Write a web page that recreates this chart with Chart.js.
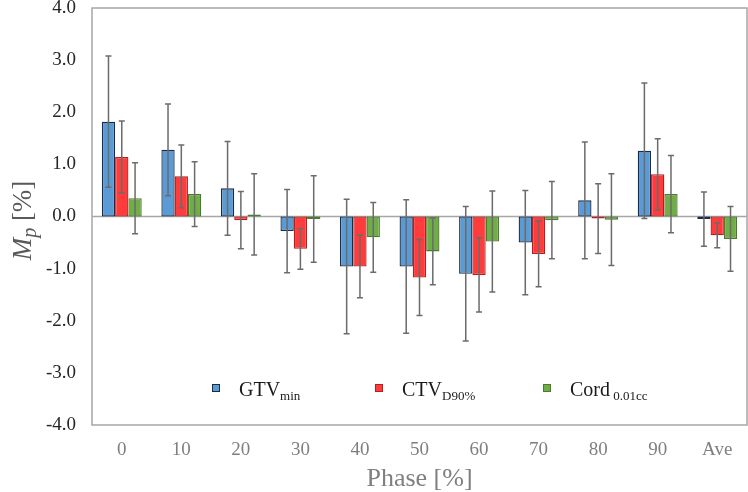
<!DOCTYPE html>
<html>
<head>
<meta charset="utf-8">
<script src="https://cdn.jsdelivr.net/npm/chart.js@4"></script>
<style>
html,body{margin:0;padding:0;background:#fff;}
#wrap{width:748px;height:492px;position:relative;}
</style>
</head>
<body>
<div id="wrap"><canvas id="c" width="748" height="492"></canvas></div>
<script>
const categories = ['0','10','20','30','40','50','60','70','80','90','Ave'];
const gtvMean = [1.82, 1.28, 0.54, -0.28, -0.96, -0.96, -1.10, -0.50, 0.31, 1.26, -0.05];
const gtvSD   = [1.26, 0.88, 0.90, 0.80, 1.29, 1.28, 1.29, 1.00, 1.12, 1.30, 0.52];
const ctvMean = [1.14, 0.77, -0.07, -0.62, -0.96, -1.17, -1.12, -0.72, -0.04, 0.81, -0.36];
const ctvSD   = [0.69, 0.60, 0.55, 0.39, 0.60, 0.73, 0.71, 0.63, 0.67, 0.68, 0.24];
const cordMean = [0.35, 0.43, 0.04, -0.05, -0.40, -0.67, -0.48, -0.07, -0.06, 0.43, -0.43];
const cordSD   = [0.68, 0.62, 0.78, 0.83, 0.67, 0.64, 0.97, 0.74, 0.88, 0.74, 0.62];
const yTicks = [-4, -3, -2, -1, 0, 1, 2, 3, 4];
const legendMain = ['GTV', 'CTV', 'Cord'];
const legendSub = ['min', 'D90%', ' 0.01cc'];
const sdSets = [gtvSD, ctvSD, cordSD];

const SERIF = '"Liberation Serif", "Times New Roman", serif';

const errorBars = {
  id: 'errorBars',
  afterDatasetsDraw(chart) {
    const ctx = chart.ctx;
    const ys = chart.scales.y;
    ctx.save();
    ctx.strokeStyle = '#6b6b6b';
    ctx.lineWidth = 1.5;
    chart.data.datasets.forEach((ds, di) => {
      const meta = chart.getDatasetMeta(di);
      meta.data.forEach((el, i) => {
        const v = ds.data[i], sd = sdSets[di][i];
        const yt = ys.getPixelForValue(v + sd);
        const yb = ys.getPixelForValue(v - sd);
        const x = el.x;
        ctx.beginPath();
        ctx.moveTo(x, yt); ctx.lineTo(x, yb);
        ctx.moveTo(x - 3, yt); ctx.lineTo(x + 3, yt);
        ctx.moveTo(x - 3, yb); ctx.lineTo(x + 3, yb);
        ctx.stroke();
      });
    });
    ctx.restore();
  }
};

const frame = {
  id: 'frame',
  beforeDatasetsDraw(chart) {
    const {ctx, chartArea: a} = chart;
    const ys = chart.scales.y;
    ctx.save();
    ctx.strokeStyle = '#a6a6a6';
    ctx.lineWidth = 1.5;
    ctx.strokeRect(a.left, a.top, a.right - a.left, a.bottom - a.top);
    const y0 = ys.getPixelForValue(0);
    ctx.beginPath();
    ctx.moveTo(a.left, y0); ctx.lineTo(a.right, y0);
    ctx.stroke();
    ctx.restore();
  },
  afterDraw(chart) {
    const {ctx, chartArea: a} = chart;
    ctx.save();
    ctx.translate(22, (a.top + a.bottom) / 2 + 4);
    ctx.rotate(-Math.PI / 2);
    ctx.fillStyle = '#595959';
    ctx.textBaseline = 'alphabetic';
    const f1 = 'italic 27px ' + SERIF, f2 = 'italic 20px ' + SERIF, f3 = '27px ' + SERIF;
    ctx.font = f1; const wM = ctx.measureText('M').width;
    ctx.font = f2; const wP = ctx.measureText('p').width;
    ctx.font = f3; const wR = ctx.measureText(' [%]').width;
    const total = wM + wP + wR;
    let x = -total / 2;
    const base = 9;
    ctx.font = f1; ctx.fillText('M', x, base); x += wM;
    ctx.font = f2; ctx.fillText('p', x, base + 5); x += wP;
    ctx.font = f3; ctx.fillText(' [%]', x, base);
    ctx.restore();

    ctx.save();
    const ly = 387;
    const boxX = [212, 375, 543];
    chart.data.datasets.forEach((ds, i) => {
      const bx = boxX[i];
      ctx.fillStyle = ds.backgroundColor;
      ctx.strokeStyle = ds.borderColor;
      ctx.lineWidth = 1;
      ctx.fillRect(bx, ly - 3, 8, 8);
      ctx.strokeRect(bx + 0.5, ly - 2.5, 7, 7);
      ctx.fillStyle = '#1a1a1a';
      ctx.textBaseline = 'alphabetic';
      ctx.font = '20px ' + SERIF;
      const tx = bx + 27;
      ctx.fillText(legendMain[i], tx, ly + 9);
      const w = ctx.measureText(legendMain[i]).width;
      ctx.font = '13px ' + SERIF;
      ctx.fillText(legendSub[i], tx + w, ly + 13);
    });
    ctx.restore();
  }
};

new Chart(document.getElementById('c'), {
  type: 'bar',
  data: {
    labels: categories,
    datasets: [
      {label: 'GTVmin', data: gtvMean, backgroundColor: '#5b9bd5', borderColor: '#1c2b45', borderWidth: 1.3, borderSkipped: false},
      {label: 'CTVD90%', data: ctvMean, backgroundColor: '#ff3b3b', borderColor: '#b51f1f', borderWidth: 1.3, borderSkipped: false},
      {label: 'Cord0.01cc', data: cordMean, backgroundColor: '#70ad47', borderColor: '#4a7a2c', borderWidth: 1.3, borderSkipped: false}
    ]
  },
  options: {
    responsive: false,
    animation: false,
    devicePixelRatio: 1,
    layout: {padding: {top: 8, right: 1, left: 0, bottom: 0}},
    categoryPercentage: 0.67,
    barPercentage: 1.0,
    plugins: {legend: {display: false}, tooltip: {enabled: false}},
    scales: {
      x: {
        grid: {display: false, drawTicks: false},
        border: {display: false},
        ticks: {color: '#7f7f7f', font: {family: SERIF, size: 19}, padding: 14},
        title: {display: true, text: 'Phase [%]', color: '#7f7f7f', font: {family: SERIF, size: 26}, padding: {top: 0, bottom: -3}},
        afterFit(s) { s.height = 67; s.paddingLeft = 0; s.paddingRight = 0; }
      },
      y: {
        min: -4, max: 4,
        afterBuildTicks(s) { s.ticks = yTicks.map(v => ({value: v})); },
        grid: {display: false, drawTicks: false},
        border: {display: false},
        ticks: {color: '#262626', font: {family: SERIF, size: 19}, padding: 16, callback: v => v.toFixed(1)},
        afterFit(s) { s.width = 92; s.paddingTop = 0; s.paddingBottom = 0; }
      }
    }
  },
  plugins: [frame, errorBars]
});
</script>
</body>
</html>
